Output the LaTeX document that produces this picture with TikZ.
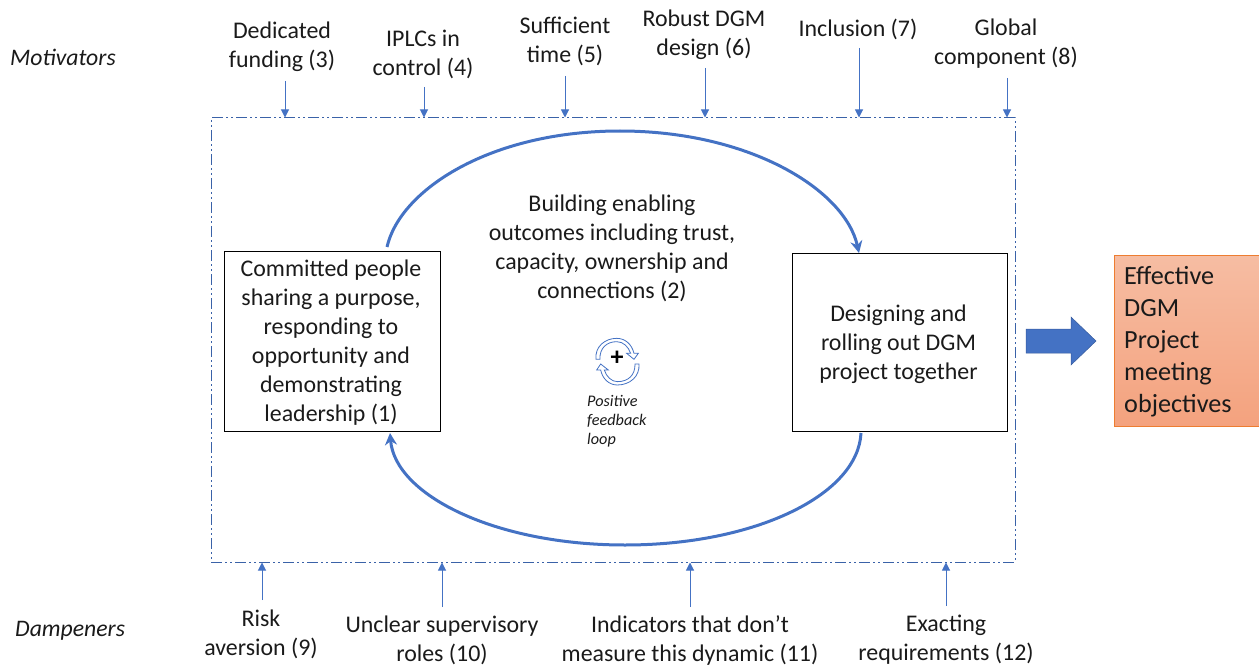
\documentclass[tikz,border=0pt]{standalone}
\usepackage{fontspec}
\setmainfont{Carlito}
\usetikzlibrary{arrows.meta}
\definecolor{lineblue}{HTML}{4472C4}
\definecolor{framedark}{HTML}{3A62A8}
\definecolor{textdark}{HTML}{1A1A1A}
\definecolor{goaltop}{HTML}{F6BDA3}
\definecolor{goalbot}{HTML}{F4A27E}
\definecolor{goaledge}{HTML}{ED7D31}
\tikzset{
  lbl/.style={align=center,font=\fontsize{23.9}{29}\selectfont,text=textdark,inner sep=0pt},
  side/.style={font=\fontsize{23.7}{26}\selectfont\itshape,text=textdark,inner sep=0pt},
  boxnode/.style={draw=black,line width=1pt,inner sep=0pt},
  smallarrow/.style={draw=lineblue,line width=1pt,-{Triangle[length=8pt,width=8pt]}},
  looparrow/.style={draw=lineblue,line width=3pt,-{Stealth[length=12pt,width=12pt]}},
  iconband/.style={draw=lineblue,line width=0.8pt,fill=white,line join=miter}
}
\begin{document}
\begin{tikzpicture}[x=1pt,y=-1pt]
\useasboundingbox (0,0) rectangle (1259,666);

% frame
\node[draw=framedark,line width=1pt,dash pattern=on 11pt off 3pt on 2pt off 3pt on 2pt off 3pt,
  minimum width=804pt,minimum height=444pt,inner sep=0pt] (frame) at (613,340) {};

% boxes
\node[boxnode,minimum width=216pt,minimum height=180pt,
  label={[lbl,yshift=-2pt,xshift=-1pt]center:{Committed people\\sharing a purpose,\\responding to\\opportunity and\\demonstrating\\leadership (1)}}] (left) at (332,341) {};
\node[boxnode,minimum width=215pt,minimum height=178pt,
  label={[lbl,yshift=-2.5pt,xshift=-1pt]center:{Designing and\\rolling out DGM\\project together}}] (right) at (899.5,342) {};

% outcome box
\node[draw=goaledge,line width=1pt,top color=goaltop,bottom color=goalbot,
  minimum width=145pt,minimum height=171pt,inner sep=0pt] (goal) at (1186.5,340.5) {};
\node[anchor=west,align=left,inner sep=0pt,font=\fontsize{26.2}{32}\selectfont,text=textdark] (goaltext) at (1124,342)
  {Effective\\DGM\\Project\\meeting\\objectives};

% big arrow
\path[fill=lineblue,draw=lineblue!80!black,line width=0.5pt]
  (1026,329) -- (1071,329) -- (1071,317) -- (1096,341) -- (1071,365) -- (1071,353) -- (1026,353) -- cycle;

% loop connectors
\coordinate (ls) at (387,247);
\coordinate (re) at (859,253);
\coordinate (rs) at (861,433);
\coordinate (le) at (390,433);
\draw[looparrow] (ls) .. controls (400,190) and (490,131) .. (620,131) .. controls (750,131) and (845,190) .. (re);
\draw[looparrow] (rs) .. controls (858,495) and (755,545) .. (625,545) .. controls (495,545) and (395,495) .. (le);

% central texts
\node[lbl] (centre) at (612,248) {Building enabling\\outcomes including trust,\\capacity, ownership and\\connections (2)};
\node[anchor=north west,align=left,inner sep=0pt,font=\fontsize{16.2}{19}\selectfont\itshape,text=textdark] (pfl) at (587,395)
  {Positive\\feedback\\loop};

% loop icon
\begin{scope}[shift={(560,320)},x=0.3333pt,y=-0.3333pt]
  \path[iconband] (108,118) .. controls (104,80) and (135,55) .. (170,55) .. controls (195,55) and (215,72) .. (222,100)
    -- (235,100) -- (222,118) -- (200,100) -- (212,100) .. controls (205,80) and (190,65) .. (170,65)
    .. controls (140,65) and (118,85) .. (120,118) -- cycle;
  \path[iconband] (237,132) .. controls (240,170) and (209,195) .. (172,195) .. controls (148,195) and (128,178) .. (122,150)
    -- (110,150) -- (122,132) -- (145,150) -- (133,150) .. controls (139,170) and (155,185) .. (172,185)
    .. controls (205,185) and (226,165) .. (225,132) -- cycle;
\end{scope}
\node[inner sep=0pt,font=\bfseries\fontsize{26}{26}\selectfont] (plus) at (617,358) {+};

% side labels
\node[side,anchor=west] (motiv) at (10,57) {Motivators};
\node[side,anchor=west] (damp) at (15,631) {Dampeners};

% top labels
\node[lbl] (t3) at (282,47) {Dedicated\\funding (3)};
\node[lbl] (t4) at (423,54) {IPLCs in\\control (4)};
\node[lbl] (t5) at (565,41) {Sufficient\\time (5)};
\node[lbl] (t6) at (704,35) {Robust DGM\\design (6)};
\node[lbl] (t7) at (858,29) {Inclusion (7)};
\node[lbl] (t8) at (1006,44) {Global\\component (8)};

% bottom labels
\node[lbl] (b9) at (261,634) {Risk\\aversion (9)};
\node[lbl] (b10) at (442,640) {Unclear supervisory\\roles (10)};
\node[lbl] (b11) at (690,640) {Indicators that don’t\\measure this dynamic (11)};
\node[lbl] (b12) at (946,640) {Exacting\\requirements (12)};

% top arrows
\coordinate (a3) at (285,81);
\coordinate (a4) at (424,87);
\coordinate (a5) at (565,76);
\coordinate (a6) at (705,68);
\coordinate (a7) at (859,48);
\coordinate (a8) at (1007,78);
\foreach \c in {a3,a4,a5,a6,a7,a8}{
  \draw[smallarrow] (\c) -- (\c |- frame.north);
}
% bottom arrows
\coordinate (c9) at (262,600);
\coordinate (c10) at (442,607);
\coordinate (c11) at (690,607);
\coordinate (c12) at (946,606);
\foreach \c in {c9,c10,c11,c12}{
  \draw[smallarrow] (\c) -- (\c |- frame.south);
}
\end{tikzpicture}
\end{document}
